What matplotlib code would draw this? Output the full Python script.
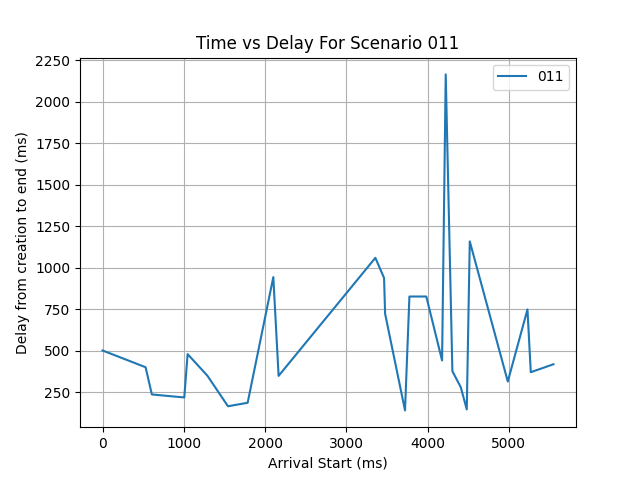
import matplotlib
matplotlib.use("Agg")
import matplotlib.pyplot as plt

scenario = "011"
arrival = [0, 530, 607, 1006, 1047, 1289, 1544, 1786, 2102, 2167, 3358, 3465, 3478,
           3723, 3777, 3985, 4179, 4224, 4306, 4409, 4483, 4520, 4988, 5230, 5271, 5550]
delay = [503, 402, 238, 220, 481, 352, 167, 188, 945, 350, 1061, 940, 724,
         142, 828, 828, 443, 2166, 378, 282, 148, 1160, 316, 750, 372, 420]

fig, ax = plt.subplots(figsize=(6.4, 4.8), dpi=100)
ax.plot(arrival, delay, label=scenario)
ax.set_title("Time vs Delay For Scenario " + scenario)
ax.set_xlabel("Arrival Start (ms)")
ax.set_ylabel("Delay from creation to end (ms)")
ax.grid(True)
ax.legend(loc="upper right")
fig.savefig("out.png")
